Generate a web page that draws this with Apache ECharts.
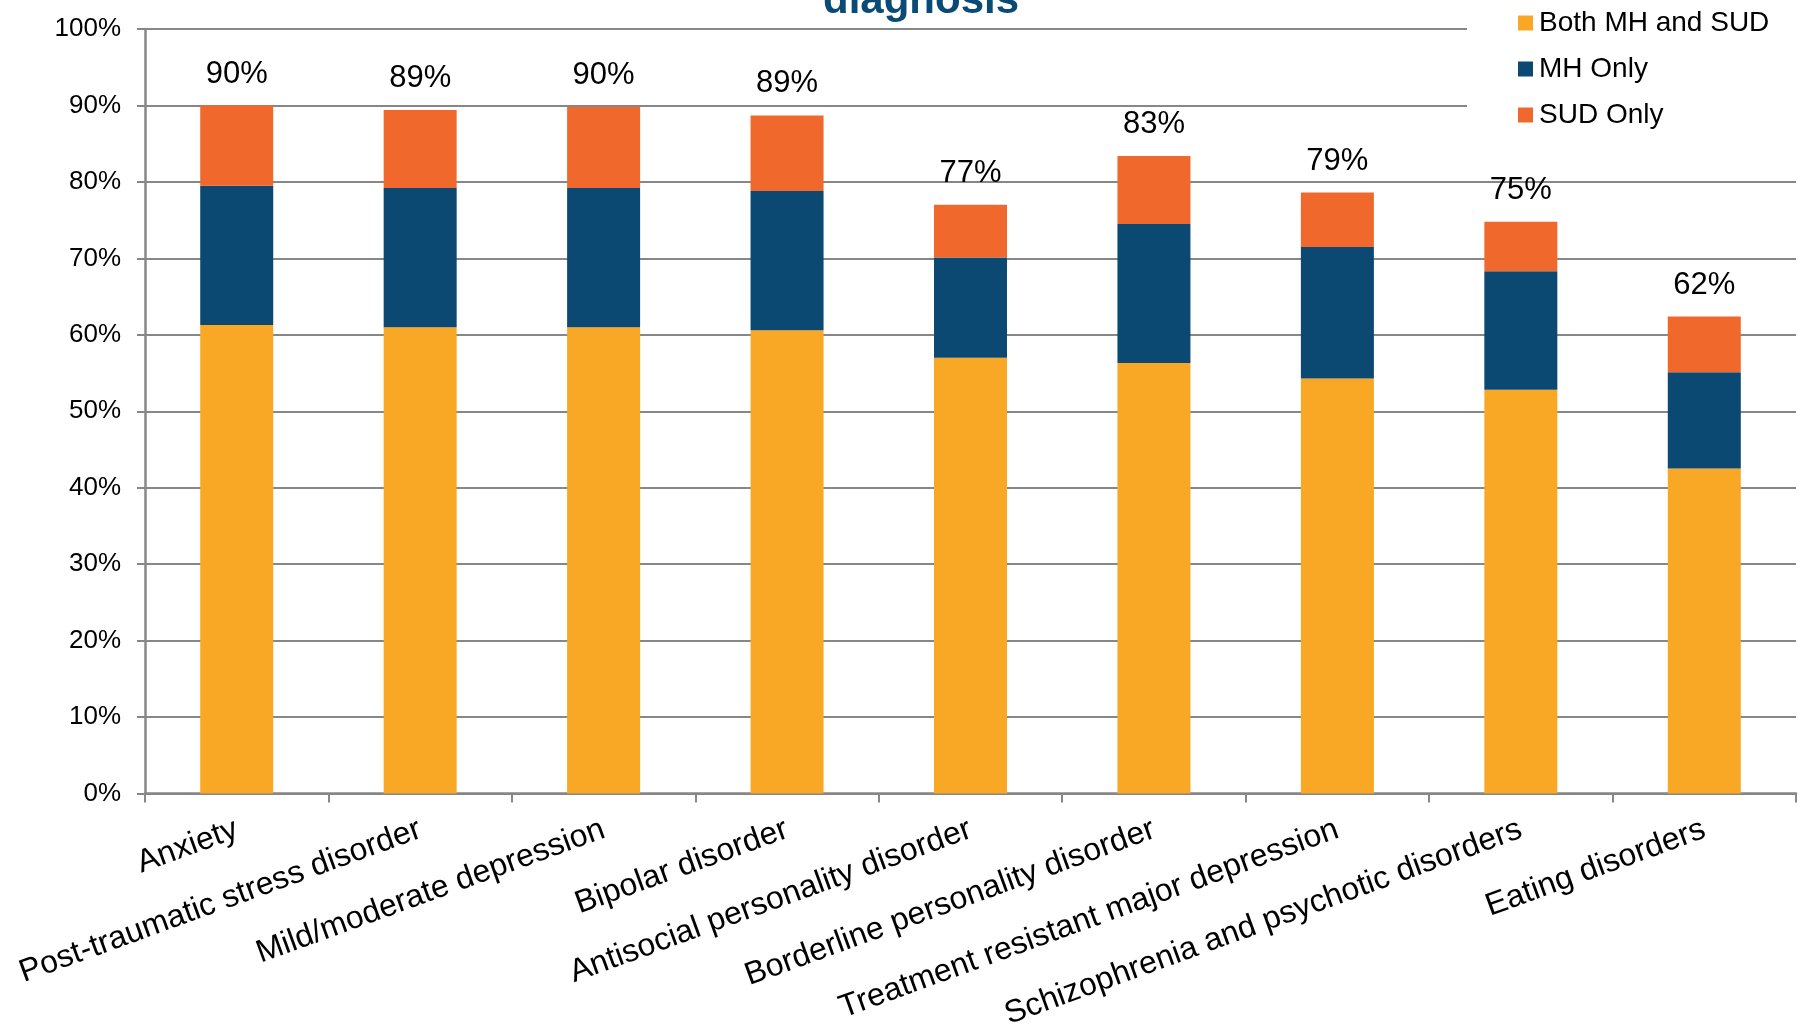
<!DOCTYPE html>
<html>
<head>
<meta charset="utf-8">
<script src="https://cdn.jsdelivr.net/npm/echarts@6/dist/echarts.min.js"></script>
<style>html,body{margin:0;padding:0;background:#fff}#chart{width:1799px;height:1032px}</style>
</head>
<body>
<div id="chart"></div>
<script>
const categories = ['Anxiety', 'Post-traumatic stress disorder', 'Mild/moderate depression', 'Bipolar disorder', 'Antisocial personality disorder', 'Borderline personality disorder', 'Treatment resistant major depression', 'Schizophrenia and psychotic disorders', 'Eating disorders'];
const seriesNames = ['Both MH and SUD', 'MH Only', 'SUD Only'];
const bothMHSUD = [61.3, 61.0, 61.0, 60.6, 57.0, 56.3, 54.3, 52.8, 42.5];
const mhOnly = [18.2, 18.2, 18.2, 18.2, 13.1, 18.2, 17.2, 15.5, 12.6];
const sudOnly = [10.5, 10.2, 10.6, 9.9, 6.9, 8.9, 7.1, 6.5, 7.3];
const totalLabels = ['90%', '89%', '90%', '89%', '77%', '83%', '79%', '75%', '62%'];
const titleText = 'diagnosis';

const FONT = '"Liberation Sans", Arial, sans-serif';
const GRAY = '#878787';
const colors = ['#F9A825', '#0B4973', '#F1682C'];

const chart = echarts.init(document.getElementById('chart'), null, {renderer: 'canvas'});
chart.setOption({
  animation: false,
  backgroundColor: '#fff',
  textStyle: {fontFamily: FONT},
  title: {
    text: titleText,
    left: 921,
    textAlign: 'center',
    top: -20,
    padding: 0,
    textStyle: {fontFamily: FONT, fontSize: 42, fontWeight: 'bold', color: '#0B4A74'}
  },
  legend: {
    data: seriesNames,
    orient: 'vertical',
    left: 1467,
    top: 0,
    padding: [9, 40, 30, 51],
    backgroundColor: '#fff',
    itemGap: 18,
    itemWidth: 15,
    itemHeight: 15,
    icon: 'rect',
    textStyle: {fontFamily: FONT, fontSize: 28, color: '#000', padding: [0, 0, 0, 1]},
    z: 10
  },
  grid: {left: 145, right: 3, top: 29, bottom: 232, containLabel: false},
  xAxis: {
    type: 'category',
    data: categories,
    axisLine: {lineStyle: {color: GRAY, width: 2.5}},
    axisTick: {show: true, length: 9, lineStyle: {color: GRAY, width: 2}},
    axisLabel: {
      interval: 0,
      rotate: 20,
      margin: 35,
      fontFamily: FONT,
      fontSize: 32,
      color: '#000'
    }
  },
  yAxis: {
    type: 'value',
    min: 0,
    max: 100,
    interval: 10,
    axisLine: {show: true, lineStyle: {color: GRAY, width: 2.5}},
    axisTick: {show: true, length: 8, lineStyle: {color: GRAY, width: 2}},
    axisLabel: {formatter: '{value}%', fontFamily: FONT, fontSize: 26, color: '#000', margin: 24},
    splitLine: {show: true, lineStyle: {color: GRAY, width: 2}}
  },
  series: [
    {name: seriesNames[0], type: 'bar', stack: 'total', data: bothMHSUD, barWidth: 73, itemStyle: {color: colors[0]}},
    {name: seriesNames[1], type: 'bar', stack: 'total', data: mhOnly, barWidth: 73, itemStyle: {color: colors[1]}},
    {name: seriesNames[2], type: 'bar', stack: 'total', data: sudOnly, barWidth: 73, itemStyle: {color: colors[2]},
      label: {
        show: true,
        position: 'top',
        distance: 16,
        fontFamily: FONT,
        fontSize: 31,
        color: '#000',
        formatter: p => totalLabels[p.dataIndex]
      }
    }
  ]
});
</script>
</body>
</html>
